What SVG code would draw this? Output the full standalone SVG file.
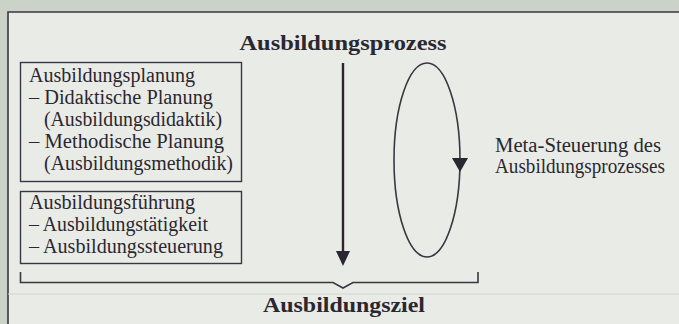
<svg xmlns="http://www.w3.org/2000/svg" width="679" height="324" viewBox="0 0 679 324">
<defs>
<style>
.t{font-family:"Liberation Serif","DejaVu Serif",serif;font-size:20px;fill:#2b2730}
.b{font-family:"Liberation Serif","DejaVu Serif",serif;font-size:20.5px;font-weight:bold;fill:#2b2730}
.box{fill:none;stroke:#3b3642;stroke-width:1.4}
.ln{fill:none;stroke:#3b3642;stroke-width:1.6}
</style>
</defs>
<rect x="0" y="0" width="679" height="324" fill="#cbd2c8"/>
<rect x="8" y="12" width="671" height="312" fill="#e9ebe7"/>
<path d="M8,324 V12 H679" fill="none" stroke="#3b3642" stroke-width="1.6"/>
<line x1="8" y1="294" x2="679" y2="294" stroke="#d2d5d0" stroke-width="1"/>

<g id="title"><text class="b" x="343" y="50" text-anchor="middle" textLength="207" lengthAdjust="spacingAndGlyphs">Ausbildungsprozess</text></g>

<g id="planung">
<rect class="box" x="20.5" y="62.5" width="221" height="119"/>
<text class="t" x="29" y="82" textLength="166" lengthAdjust="spacingAndGlyphs">Ausbildungsplanung</text>
<text class="t" x="29" y="104" textLength="184" lengthAdjust="spacingAndGlyphs">– Didaktische Planung</text>
<text class="t" x="44" y="126" textLength="178" lengthAdjust="spacingAndGlyphs">(Ausbildungsdidaktik)</text>
<text class="t" x="29" y="148" textLength="195" lengthAdjust="spacingAndGlyphs">– Methodische Planung</text>
<text class="t" x="44" y="170" textLength="189" lengthAdjust="spacingAndGlyphs">(Ausbildungsmethodik)</text>
</g>

<g id="fuehrung">
<rect class="box" x="20.5" y="191.5" width="221" height="72"/>
<text class="t" x="29" y="209" textLength="166" lengthAdjust="spacingAndGlyphs">Ausbildungsführung</text>
<text class="t" x="29" y="231" textLength="179" lengthAdjust="spacingAndGlyphs">– Ausbildungstätigkeit</text>
<text class="t" x="29" y="253" textLength="194" lengthAdjust="spacingAndGlyphs">– Ausbildungssteuerung</text>
</g>

<g id="meta">
<text class="t" x="495" y="152" textLength="166" lengthAdjust="spacingAndGlyphs">Meta-Steuerung des</text>
<text class="t" x="495" y="173" textLength="170" lengthAdjust="spacingAndGlyphs">Ausbildungsprozesses</text>
</g>

<g id="ziel"><text class="b" x="344" y="312" text-anchor="middle" textLength="162" lengthAdjust="spacingAndGlyphs">Ausbildungsziel</text></g>

<g id="connectors">
<line x1="343" y1="63" x2="343" y2="252" stroke="#2b2730" stroke-width="2.4"/>
<path d="M336,251 L350,251 L343,266 Z" fill="#2b2730"/>
<ellipse cx="427" cy="160" rx="33" ry="97" class="ln"/>
<path d="M452,158 L468,158 L460,172 Z" fill="#2b2730"/>
<path d="M20.5,272 V282.5 H333 L343,288 L353,282.5 H478 V272" class="ln"/>
</g>
</svg>
